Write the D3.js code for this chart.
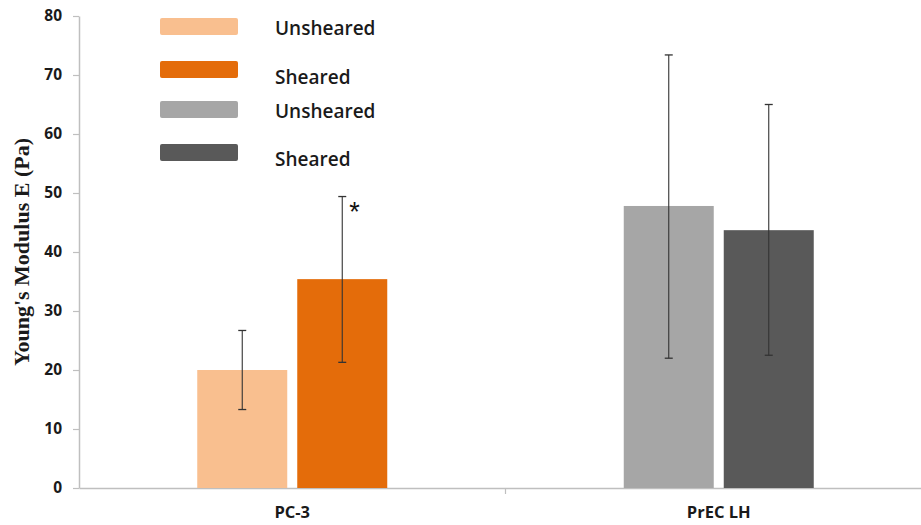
<!DOCTYPE html>
<html>
<head>
<meta charset="utf-8">
<script src="https://cdn.jsdelivr.net/npm/d3@7"></script>
<style>
  html, body { margin: 0; padding: 0; background: #fff; }
  svg { display: block; }
</style>
</head>
<body>
<svg id="chart" width="921" height="525"></svg>
<script>
// Young's modulus by cell line and condition (mean ± error)
const categories = ["PC-3", "PrEC LH"];
const conditions = ["Unsheared", "Sheared"];
const meanUnsheared = [20.0, 47.8];
const meanSheared   = [35.4, 43.7];
const errLowUnsheared  = [13.3, 22.0];
const errHighUnsheared = [26.7, 73.4];
const errLowSheared    = [21.3, 22.5];
const errHighSheared   = [49.4, 65.0];
const yTicks = [0, 10, 20, 30, 40, 50, 60, 70, 80];
const significant = [true, false]; // marks the sheared bar with *

const barColors = [
  ["#F9BF8F", "#E46C0A"],
  ["#A6A6A6", "#595959"]
];
const legendItems = [
  { label: "Unsheared", color: barColors[0][0] },
  { label: "Sheared",   color: barColors[0][1] },
  { label: "Unsheared", color: barColors[1][0] },
  { label: "Sheared",   color: barColors[1][1] }
];

const svg = d3.select("#chart");
const margin = { left: 79, right: -11, top: 16, bottom: 37 };
const W = 921, H = 525;
const plotW = W - margin.left - margin.right;
const plotH = H - margin.top - margin.bottom;
const g = svg.append("g").attr("transform", `translate(${margin.left},${margin.top})`);

const groupW = 190;
const y = d3.scaleLinear().domain([0, 80]).range([plotH, 0]);
const x0 = d3.scaleBand().domain(categories).range([0, plotW]).paddingInner(0).paddingOuter(0);
const x1 = d3.scaleBand().domain(conditions).range([0, groupW]).paddingInner(0.1);
const groupOffset = (x0.bandwidth() - groupW) / 2;

const rows = categories.map((c, i) => ({
  cat: c, i,
  bars: [
    { cond: "Unsheared", v: meanUnsheared[i], lo: errLowUnsheared[i], hi: errHighUnsheared[i], color: barColors[i][0] },
    { cond: "Sheared",   v: meanSheared[i],   lo: errLowSheared[i],   hi: errHighSheared[i],   color: barColors[i][1], star: significant[i] }
  ]
}));

// Y axis
const yAxis = d3.axisLeft(y).tickValues(yTicks).tickSize(6).tickPadding(11).tickSizeOuter(0);
const ya = g.append("g").call(yAxis);
ya.select(".domain").attr("stroke", "#BFBFBF").attr("stroke-width", 1.5);
ya.selectAll(".tick line").attr("stroke", "#BFBFBF").attr("stroke-width", 1.2);
ya.selectAll(".tick text")
  .attr("font-family", "'Open Sans', 'Noto Sans', sans-serif")
  .attr("font-weight", "bold").attr("font-size", 15.5).attr("fill", "#1a1a1a");

// X axis
const xAxis = d3.axisBottom(x0).tickSize(0).tickPadding(18);
const xa = g.append("g").attr("transform", `translate(0,${plotH})`).call(xAxis);
xa.select(".domain").attr("stroke", "#BFBFBF").attr("stroke-width", 1.5);
xa.selectAll(".tick text")
  .attr("font-family", "'Open Sans', 'Noto Sans', sans-serif")
  .attr("font-weight", "bold").attr("font-size", 16.5).attr("fill", "#1a1a1a");
// Category divider tick
g.append("g").attr("transform", `translate(0,${plotH})`)
  .selectAll("line").data(categories.slice(1)).join("line")
  .attr("x1", d => x0(d)).attr("x2", d => x0(d))
  .attr("y1", 0).attr("y2", 6)
  .attr("stroke", "#BFBFBF").attr("stroke-width", 1.2);

// Bars
const groups = g.selectAll(".grp").data(rows).join("g")
  .attr("class", "grp")
  .attr("transform", d => `translate(${x0(d.cat) + groupOffset},0)`);

groups.selectAll("rect").data(d => d.bars).join("rect")
  .attr("x", d => x1(d.cond))
  .attr("width", x1.bandwidth())
  .attr("y", d => y(d.v))
  .attr("height", d => y(0) - y(d.v))
  .attr("fill", d => d.color);

// Error bars
const eb = groups.selectAll(".err").data(d => d.bars).join("g").attr("class", "err")
  .attr("transform", d => `translate(${x1(d.cond) + x1.bandwidth() / 2},0)`);
eb.append("line").attr("x1", 0).attr("x2", 0)
  .attr("y1", d => y(d.lo)).attr("y2", d => y(d.hi))
  .attr("stroke", "#333").attr("stroke-width", 1.1);
eb.append("line").attr("x1", -4).attr("x2", 4)
  .attr("y1", d => y(d.hi)).attr("y2", d => y(d.hi))
  .attr("stroke", "#333").attr("stroke-width", 1.3);
eb.append("line").attr("x1", -4).attr("x2", 4)
  .attr("y1", d => y(d.lo)).attr("y2", d => y(d.lo))
  .attr("stroke", "#333").attr("stroke-width", 1.3);

// Significance marker
eb.filter(d => d.star).append("text")
  .attr("x", 7).attr("y", d => y(d.hi) + 24)
  .attr("font-family", "'Liberation Sans', Arial, sans-serif")
  .attr("font-size", 27).attr("fill", "#111")
  .text("*");

// Y axis title
svg.append("text")
  .attr("transform", `translate(29,${margin.top + plotH / 2}) rotate(-90)`)
  .attr("text-anchor", "middle")
  .attr("font-family", "'Liberation Serif', 'DejaVu Serif', serif")
  .attr("font-weight", "bold").attr("font-size", 22).attr("fill", "#1a1a1a")
  .text("Young's Modulus E (Pa)");

// Legend
const legendY = [18, 61, 101, 144];
const textY = [28, 77, 111, 159];
const lg = svg.append("g");
lg.selectAll("rect").data(legendItems).join("rect")
  .attr("x", 160).attr("y", (d, i) => legendY[i])
  .attr("width", 78).attr("height", 17).attr("rx", 2)
  .attr("fill", d => d.color);
lg.selectAll("text").data(legendItems).join("text")
  .attr("x", 275).attr("y", (d, i) => textY[i]).attr("dy", "0.35em")
  .attr("font-family", "'Open Sans', 'Noto Sans', sans-serif")
  .attr("font-weight", 600).attr("font-size", 19).attr("fill", "#1a1a1a")
  .text(d => d.label);
</script>
</body>
</html>
